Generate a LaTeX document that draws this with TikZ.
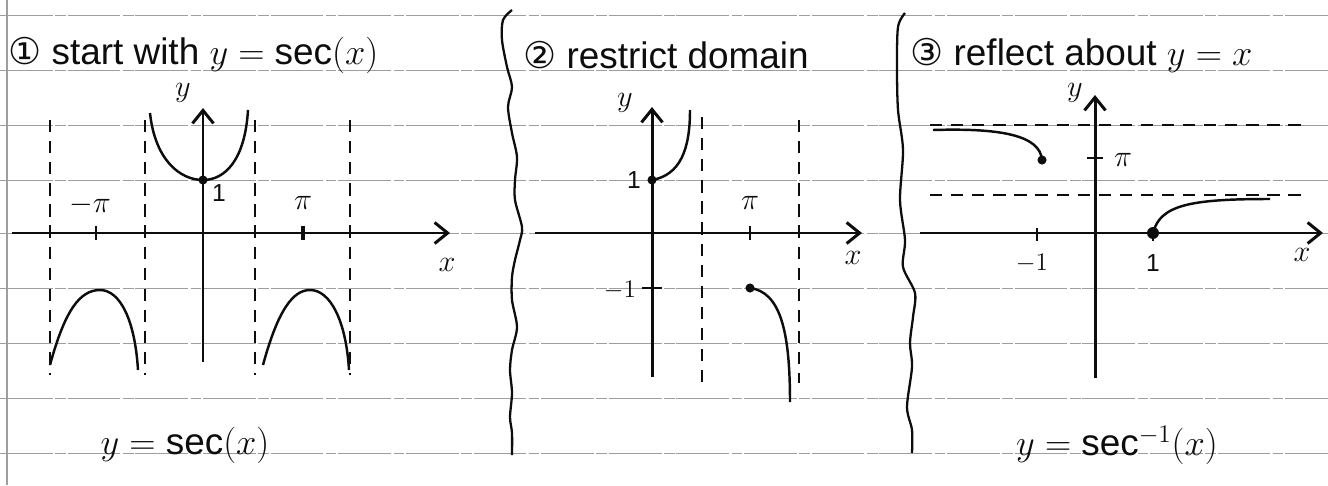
\documentclass[tikz,border=0pt]{standalone}
\usepackage{fontspec}
\setmainfont{Liberation Sans}
\newfontfamily\circfont{DejaVu Sans}
\usetikzlibrary{arrows.meta, positioning, calc}
\definecolor{Ink}{rgb}{0.05, 0.05, 0.05}
\definecolor{RuleGray}{rgb}{0.62, 0.62, 0.62}

\begin{document}
\begin{tikzpicture}[
    x=0.02cm, y=0.02cm,
    axis/.style={-{Straight Barb[length=2.6mm, width=4.2mm]}, line width=1.7pt, Ink},
    curve/.style={line width=1.4pt, Ink},
    asym/.style={line width=1pt, Ink, dash pattern=on 7pt off 5pt},
    rule/.style={RuleGray, line width=0.5pt, dash pattern=on 30pt off 1.5pt on 6pt off 1pt},
    lbl/.style={font=\fontsize{18}{20}\selectfont, text=Ink, inner sep=1pt},
    small/.style={font=\fontsize{14}{16}\selectfont, text=Ink, inner sep=1pt},
    title/.style={font=\fontsize{21}{24}\selectfont, text=Ink, anchor=west, inner sep=0pt},
    dot/.style={Ink},
]
\useasboundingbox (0,0) rectangle (1328,485);
\fill[white] (0,0) rectangle (1328,485);

% ruled paper
\foreach \ry in {470,415,360,305,252,197,142,87,32}
    \draw[rule] (0,\ry) -- (1328,\ry);
\draw[RuleGray, line width=0.6pt] (7,0) -- (7,485);

% ============ PASO 1: y = sec(x) ============
\node[title] (t1) at (8,430) {{\circfont ①} start with $y=\sec(x)$};
\begin{scope}[shift={(203,252)}]
    \draw[axis] (-191,0) coordinate (x1l) -- (247,0) coordinate (x1r);
    \draw[axis] (0,-129) coordinate (y1b) -- (0,125) coordinate (y1t);
    \node[lbl] (ylab1) at (-20,140) {$y$};
    \node[lbl] (xlab1) at (244,-32) {$x$};
    % asintotas
    \foreach \ax in {-153,-58,52,147}
        \draw[asym] (\ax,113) -- (\ax,-142);
    \draw[line width=1.2pt, Ink] (-107,-7) -- (-107,7);
    \draw[line width=2.4pt, Ink] (100,-7) -- (100,7);
    \node[lbl] (mpi1) at (-113,28) {$-\pi$};
    \node[lbl] (pi1) at (100,30) {$\pi$};
    \node[small] (one1) at (16,40) {1};
    % ramas
    \draw[curve] (-53,120) .. controls (-48,73) and (-23,53) .. (0,53)
                 .. controls (22,53) and (42,73) .. (45,123);
    \fill[dot] (0,53) circle (2.6pt);
    \draw[curve] (-153,-132) .. controls (-138,-77) and (-123,-57) .. (-103,-57)
                 .. controls (-83,-57) and (-68,-87) .. (-65,-137);
    \draw[curve] (60,-132) .. controls (75,-77) and (90,-57) .. (107,-57)
                 .. controls (127,-57) and (143,-87) .. (146,-137);
\end{scope}
\node[title, anchor=center] (f1) at (185,40) {$y=\sec(x)$};

% separador
\draw[line width=1.3pt, Ink] plot[smooth] coordinates {(512,475) (503,465) (502,445) (507,418) (512,398)
    (508,378) (512,352) (517,328) (515,305) (515,285) (522,258) (520,245) (515,225) (512,208)
    (512,185) (517,158) (512,135) (510,115) (512,92) (510,68) (512,52) (512,30)};

% ============ PASO 2: restringir dominio ============
\node[title] (t2) at (523,430) {{\circfont ②} restrict domain};
\begin{scope}[shift={(652,252)}]
    \draw[axis] (-117,0) coordinate (x2l) -- (210,0) coordinate (x2r);
    \draw[axis] (0,-144) coordinate (y2b) -- (0,126) coordinate (y2t);
    \node[lbl] (ylab2) at (-27,130) {$y$};
    \node[lbl] (xlab2) at (201,-25) {$x$};
    \draw[asym] (50,116) -- (50,-157);
    \draw[asym] (147,113) -- (147,-150);
    \draw[line width=1.2pt, Ink] (98,-7) -- (98,7);
    \node[lbl] (pi2) at (98,30) {$\pi$};
    \draw[line width=1.2pt, Ink] (-10,-55) -- (10,-55);
    \node[small] (one2) at (-18,53) {1};
    \node[small] (mone2) at (-32,-57) {$-1$};
    % ramas restringidas
    \draw[curve] (0,53) .. controls (28,58) and (38,83) .. (38,123);
    \fill[dot] (0,53) circle (2.6pt);
    \draw[curve] (98,-55) .. controls (128,-59) and (138,-97) .. (138,-169);
    \fill[dot] (98,-55) circle (2.6pt);
\end{scope}

% separador
\draw[line width=1.3pt, Ink] plot[smooth] coordinates {(905,472) (898,458) (897,418) (898,375)
    (903,335) (900,285) (905,245) (903,218) (915,192) (913,168) (910,142) (912,118)
    (907,78) (912,55) (912,32)};

% ============ PASO 3: reflejar sobre y = x ============
\node[title] (t3) at (910,430) {{\circfont ③} reflect about $y=x$};
\begin{scope}[shift={(1095,252)}]
    \draw[axis] (-175,0) coordinate (x3l) -- (228,0) coordinate (x3r);
    \draw[axis] (0,-145) coordinate (y3b) -- (0,138) coordinate (y3t);
    \node[lbl] (ylab3) at (-20,140) {$y$};
    \node[lbl] (xlab3) at (207,-22) {$x$};
    \draw[asym] (-165,108) -- (208,108);
    \draw[asym] (-165,38) -- (208,38);
    \draw[line width=1.2pt, Ink] (-8,75) -- (8,75);
    \node[lbl] (pi3) at (28,73) {$\pi$};
    \draw[line width=1.2pt, Ink] (-58,5) -- (-58,-8);
    \draw[line width=1.2pt, Ink] (58,5) -- (58,-8);
    \node[small] (mone3) at (-63,-30) {$-1$};
    \node[small] (one3) at (58,-30) {1};
    % ramas reflejadas
    \draw[curve] (-162,103) .. controls (-95,105) and (-55,98) .. (-53,73);
    \fill[dot] (-53,73) circle (2.6pt);
    \draw[curve] (58,0) .. controls (65,28) and (95,34) .. (175,34);
    \fill[dot] (58,0) circle (3.4pt);
\end{scope}
\node[title, anchor=center] (f3) at (1117,40) {$y=\sec^{-1}(x)$};

\end{tikzpicture}
\end{document}
